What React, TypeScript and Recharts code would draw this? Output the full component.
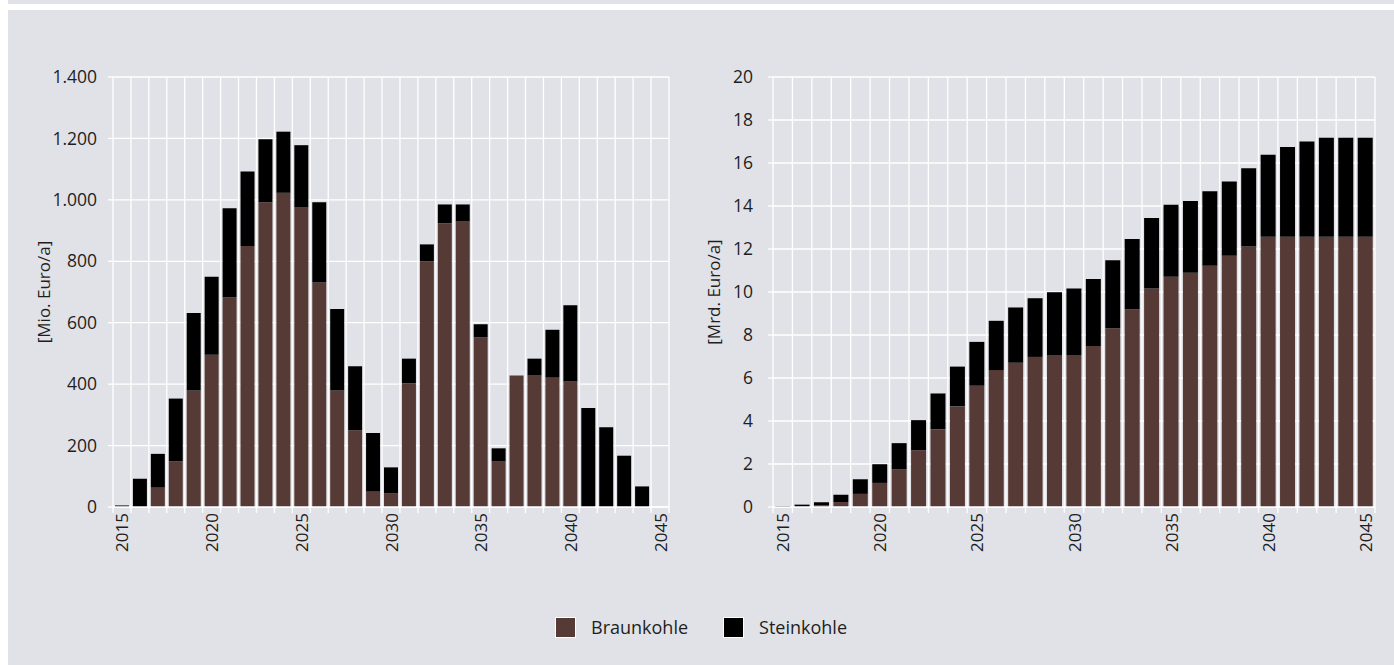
import { Bar, BarChart, CartesianGrid, XAxis, YAxis } from 'recharts';

const years = [
  2015, 2016, 2017, 2018, 2019, 2020, 2021, 2022, 2023, 2024, 2025, 2026, 2027, 2028, 2029, 2030,
  2031, 2032, 2033, 2034, 2035, 2036, 2037, 2038, 2039, 2040, 2041, 2042, 2043, 2044, 2045
];

// left panel, Mio. Euro/a
const braunkohleMio = [
  0, 0, 63, 149, 379, 496, 683, 850, 992, 1023, 975, 731, 379, 250, 50, 44,
  403, 800, 924, 930, 552, 148, 428, 428, 421, 409, 0, 0, 0, 0, 0
];
const steinkohleMio = [
  5, 92, 110, 204, 253, 254, 290, 242, 205, 199, 203, 261, 266, 208, 191, 85,
  80, 55, 61, 55, 43, 43, 0, 55, 156, 248, 322, 260, 167, 67, 0
];

// right panel, Mrd. Euro/a
const braunkohleMrd = [
  0, 0, 0.08, 0.23, 0.61, 1.12, 1.76, 2.64, 3.62, 4.68, 5.64, 6.37, 6.71, 6.98, 7.07, 7.07,
  7.49, 8.31, 9.2, 10.16, 10.71, 10.89, 11.22, 11.69, 12.12, 12.57, 12.57, 12.57, 12.57, 12.57, 12.57
];
const steinkohleMrd = [
  0.04, 0.11, 0.14, 0.34, 0.68, 0.87, 1.21, 1.4, 1.66, 1.85, 2.04, 2.29, 2.57, 2.73, 2.92, 3.09,
  3.11, 3.17, 3.26, 3.28, 3.35, 3.34, 3.47, 3.45, 3.64, 3.81, 4.17, 4.43, 4.6, 4.6, 4.6
];

const mioTicks = [0, 200, 400, 600, 800, 1000, 1200, 1400];
const mrdTicks = [0, 2, 4, 6, 8, 10, 12, 14, 16, 18, 20];
const labelYears = [2015, 2020, 2025, 2030, 2035, 2040, 2045];

const seriesNames = ['Braunkohle', 'Steinkohle'];
const seriesColors = ['#563a36', '#000000'];

const BG = '#e1e2e7';
const TEXT = '#1e1e1e';
const FONT = "'Open Sans', sans-serif";

const mioData = years.map((year, i) => ({ year, braun: braunkohleMio[i], stein: steinkohleMio[i] }));
const mrdData = years.map((year, i) => ({ year, braun: braunkohleMrd[i], stein: steinkohleMrd[i] }));

const formatDe = (v: number) => String(v).replace(/\B(?=(\d{3})+(?!\d))/g, '.');

// grid lines sit on the category borders, not on the category centres
const borderLines = ({ width, offset }: any) => {
  const plotW = width - offset.left - offset.right;
  return Array.from({ length: years.length + 1 }, (_, i) => offset.left + (i * plotW) / years.length);
};

function YearTick(props: any) {
  const { x, y, payload } = props;
  const half = payload.offset ?? 9;
  const last = payload.value === years[years.length - 1];
  const ty = y + 6;
  return (
    <g>
      <line x1={x - half} x2={x - half} y1={y} y2={y + 6} stroke="#fff" strokeWidth={1.3} />
      {last && <line x1={x + half} x2={x + half} y1={y} y2={y + 6} stroke="#fff" strokeWidth={1.3} />}
      {labelYears.includes(payload.value) && (
        <text
          x={x}
          y={ty}
          transform={`rotate(-90 ${x} ${ty})`}
          textAnchor="end"
          dominantBaseline="central"
          fill={TEXT}
          fontSize={17}
          fontFamily={FONT}
        >
          {payload.value}
        </text>
      )}
    </g>
  );
}

interface PanelProps {
  data: { year: number; braun: number; stein: number }[];
  ticks: number[];
  unit: string;
  width: number;
  yWidth: number;
  labelOffset: number;
  tickMargin: number;
  format?: (v: number) => string;
}

function Panel({ data, ticks, unit, width, yWidth, labelOffset, tickMargin, format }: PanelProps) {
  return (
    <BarChart
      width={width}
      height={560}
      data={data}
      margin={{ top: 67, right: 19, left: 0, bottom: 8 }}
      barCategoryGap="11%"
      style={{ fontFamily: FONT }}
    >
      <CartesianGrid stroke="#fff" strokeWidth={1.3} verticalCoordinatesGenerator={borderLines} />
      <XAxis
        dataKey="year"
        interval={0}
        height={55}
        tickSize={0}
        tickMargin={0}
        axisLine={{ stroke: '#fff', strokeWidth: 1.3 }}
        tickLine={false}
        tick={<YearTick />}
      />
      <YAxis
        width={yWidth}
        domain={[ticks[0], ticks[ticks.length - 1]]}
        ticks={ticks}
        interval={0}
        axisLine={false}
        tickLine={{ stroke: '#fff', strokeWidth: 1.3 }}
        tickSize={5}
        tickMargin={tickMargin}
        tickFormatter={format}
        tick={{ fill: TEXT, fontSize: 17.5, fontFamily: FONT }}
        label={{
          value: unit,
          angle: -90,
          position: 'insideLeft',
          offset: labelOffset,
          style: { textAnchor: 'middle', fill: TEXT, fontSize: 17, fontFamily: FONT }
        }}
      />
      <Bar dataKey="braun" name={seriesNames[0]} stackId="a" fill={seriesColors[0]} isAnimationActive={false} />
      <Bar dataKey="stein" name={seriesNames[1]} stackId="a" fill={seriesColors[1]} isAnimationActive={false} />
    </BarChart>
  );
}

export default function App() {
  return (
    <div style={{ position: 'absolute', left: 8, top: 0, width: 1386, height: 665, background: '#fff', fontFamily: FONT }}>
      <div style={{ height: 4, background: BG }} />
      <div style={{ position: 'absolute', top: 10, left: 0, right: 0, bottom: 0, background: BG }}>
        <div style={{ position: 'absolute', left: 0, top: 0 }}>
          <Panel
            data={mioData}
            ticks={mioTicks}
            unit="[Mio. Euro/a]"
            width={680}
            yWidth={105}
            labelOffset={36}
            tickMargin={11}
            format={formatDe}
          />
        </div>
        <div style={{ position: 'absolute', left: 682, top: 0 }}>
          <Panel
            data={mrdData}
            ticks={mrdTicks}
            unit="[Mrd. Euro/a]"
            width={704}
            yWidth={83}
            labelOffset={24}
            tickMargin={15}
          />
        </div>
        <div
          style={{
            position: 'absolute',
            left: 0,
            right: 0,
            top: 605,
            display: 'flex',
            justifyContent: 'center',
            alignItems: 'center',
            gap: 35,
            color: TEXT,
            fontSize: 18
          }}
        >
          {seriesNames.map((name, i) => (
            <div key={name} style={{ display: 'flex', alignItems: 'center', gap: 15 }}>
              <span
                style={{
                  width: 19,
                  height: 19,
                  background: seriesColors[i],
                  border: '1px solid #fff',
                  display: 'inline-block'
                }}
              />
              <span>{name}</span>
            </div>
          ))}
        </div>
      </div>
    </div>
  );
}
